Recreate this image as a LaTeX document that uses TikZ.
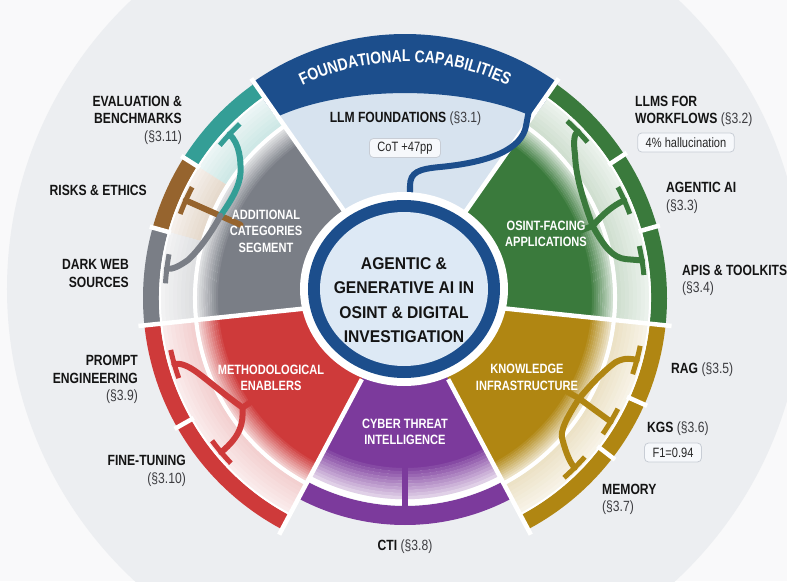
\documentclass[tikz,border=0pt]{standalone}
\usepackage{fontspec}
\setmainfont{Liberation Sans}[FakeStretch=0.82]
\newfontfamily\hubfont{Liberation Sans}[FakeStretch=0.92]
\usetikzlibrary{calc}
\usetikzlibrary{decorations.text}
\usepackage{xcolor}

\definecolor{fcblue}{RGB}{28,78,140}
\definecolor{fcpale}{RGB}{215,227,239}
\definecolor{appgreen}{RGB}{58,122,60}
\definecolor{kigold}{RGB}{176,134,18}
\definecolor{ctipurple}{RGB}{124,58,156}
\definecolor{megred}{RGB}{206,58,58}
\definecolor{addgray}{RGB}{122,126,134}
\definecolor{evalteal}{RGB}{52,158,150}
\definecolor{riskbrown}{RGB}{150,100,46}
\definecolor{bgdisk}{RGB}{236,238,241}
\definecolor{bgpage}{RGB}{249,249,250}
\definecolor{hubfill}{RGB}{221,233,245}
\definecolor{refgray}{RGB}{60,60,64}
\definecolor{tagline}{RGB}{200,205,213}
\definecolor{tagfill}{RGB}{246,248,251}

\newcommand{\ringseg}[5]{%
  \fill[#1] (#2:#4) arc[start angle=#2, end angle=#3, radius=#4] -- (#3:#5) arc[start angle=#3, end angle=#2, radius=#5] -- cycle;}
\newcommand{\sectorfill}[3]{%
  \fill[#1] (0,0) -- (#2:188) arc[start angle=#2, end angle=#3, radius=188] -- cycle;
  \foreach \k in {0,...,9} {
    \pgfmathsetmacro{\ra}{187+2.1*\k}
    \pgfmathsetmacro{\rb}{\ra+2.4}
    \pgfmathtruncatemacro{\pc}{92-7.5*\k}
    \ringseg{#1!\pc!white}{#2}{#3}{\ra}{\rb}
  }}
\newcommand{\paleband}[3]{%
  \foreach \k in {0,...,7} {
    \pgfmathsetmacro{\ra}{212+4*\k}
    \pgfmathsetmacro{\rb}{min(\ra+4.4,244)}
    \pgfmathtruncatemacro{\pc}{24-2*\k}
    \ringseg{#1!\pc!white}{#2}{#3}{\ra}{\rb}
  }}
\newcommand{\secref}[1]{{\mdseries\color{refgray}(\S#1)}}

\begin{document}
\begin{tikzpicture}[x=1pt, y=1pt,
  lbl/.style={font=\fontsize{14.8}{17.5}\selectfont\bfseries, text=black!92, inner sep=0pt},
  wlbl/.style={font=\fontsize{13.5}{16.5}\selectfont\bfseries, text=white, align=center, inner sep=0pt},
  hubtxt/.style={font=\hubfont\fontsize{17}{24.5}\selectfont\bfseries, text=black!92, align=center, inner sep=0pt},
  tagbox/.style={draw=tagline, fill=tagfill, rounded corners=4pt, line width=0.8pt, font=\fontsize{13.5}{14}\selectfont, text=black!85, minimum height=19pt, inner xsep=8pt, inner ysep=0pt},
  link/.style={line width=6pt, line cap=round},
  tbar/.style={line width=5pt},
  sep/.style={white, line width=4.5pt}]

\useasboundingbox (-405,-283) rectangle (382,298);
\fill[bgpage] (-405,-283) rectangle (382,298);
\fill[bgdisk] (0,9) circle (398);

\sectorfill{addgray}{125}{186}
\sectorfill{megred}{186}{242}
\sectorfill{kigold}{-62}{-6}
\sectorfill{appgreen}{-6}{55}
\paleband{evalteal}{125}{147.6}
\paleband{riskbrown}{147.6}{164.4}
\paleband{addgray}{164.4}{186}
\paleband{megred}{186}{242}
\paleband{kigold}{-62}{-6}
\paleband{appgreen}{-6}{55}

\fill[ctipurple] (0,0) -- (242:171) arc[start angle=242, end angle=298, radius=171] -- cycle;
\foreach \k in {0,...,9} {
  \pgfmathsetmacro{\ra}{170+3.1*\k}
  \pgfmathsetmacro{\rb}{\ra+3.4}
  \pgfmathtruncatemacro{\pc}{92-7.5*\k}
  \ringseg{ctipurple!\pc!white}{242}{298}{\ra}{\rb}
}

\fill[fcpale] (0,0) -- (55:232) arc[start angle=55, end angle=125, radius=232] -- cycle;
\fill[fcblue] (125.5:264) arc[start angle=125.5, end angle=54.5, radius=264] -- (54.5:222) .. controls (60,213) and (-60,213) .. (125.5:222) -- cycle;

\ringseg{evalteal}{125}{147.6}{246}{262}
\ringseg{riskbrown}{147.6}{164.4}{246}{262}
\ringseg{addgray}{164.4}{186}{246}{262}
\ringseg{megred}{186}{242}{246}{262}
\ringseg{ctipurple}{242}{298}{208}{227}
\ringseg{kigold}{-62}{-6}{246}{262}
\ringseg{appgreen}{-6}{55}{246}{262}

\foreach \a in {55,125,186,242,298,354}
  \draw[sep] (\a:92) -- (\a:268);
\draw[white, line width=4pt] (125:210) arc[start angle=125, end angle=242, radius=210];
\draw[white, line width=4pt] (-62:210) arc[start angle=-62, end angle=55, radius=210];
\draw[white, line width=6pt] (242:204.5) arc[start angle=242, end angle=298, radius=204.5];
\draw[white, line width=2pt] (125:245) arc[start angle=125, end angle=242, radius=245];
\draw[white, line width=2pt] (-62:245) arc[start angle=-62, end angle=55, radius=245];
\foreach \a in {147.6,164.4,209.6,-37.6,-24,15.9,33.2}
  \draw[sep] (\a:243) -- (\a:265);

\draw[link, fcblue] (5,90) -- (5,112) .. controls (5,126) and (14,129) .. (35,131) .. controls (88,136) and (117,150) .. (121,172) -- (124,188);

\draw[link, appgreen] (21:180) -- (21:201);
\draw[link, appgreen] (21:201) .. controls (30:204) and (36:211) .. (40:222) .. controls (43:230) and (44:235) .. (44:240);
\draw[link, appgreen] (21:201) .. controls (23:215) and (24:228) .. (24:240);
\draw[link, appgreen] (21:201) .. controls (14:206) and (11:212) .. (10:224) -- (9:240);
\foreach \a in {44,24,9}
  \draw[tbar, appgreen] (\a-3.5:240) arc[start angle=\a-3.5, end angle=\a+3.5, radius=240];

\draw[link, riskbrown] (156:180) -- (156:240);
\draw[link, evalteal] (156:202) .. controls (150:199) and (146:200) .. (143:206) .. controls (140:214) and (137:226) .. (137:240);
\draw[link, addgray] (156:202) .. controls (162:205) and (167:212) .. (170:220) .. controls (172:228) and (173:234) .. (173:240);
\draw[tbar, evalteal] (133.5:240) arc[start angle=133.5, end angle=140.5, radius=240];
\draw[tbar, riskbrown] (152.5:240) arc[start angle=152.5, end angle=159.5, radius=240];
\draw[tbar, addgray] (169.5:240) arc[start angle=169.5, end angle=176.5, radius=240];

\draw[link, megred] (214:180) -- (214:196);
\draw[link, megred] (214:196) .. controls (208:205) and (203:213) .. (200:220) .. controls (197:228) and (196:235) .. (196:240);
\draw[link, megred] (214:196) .. controls (218:205) and (220:215) .. (220:240);
\foreach \a in {196,220}
  \draw[tbar, megred] (\a-3.5:240) arc[start angle=\a-3.5, end angle=\a+3.5, radius=240];

\draw[link, kigold] (-30:180) -- (-30:201);
\draw[link, kigold] (-30:201) .. controls (-25:205) and (-20:212) .. (-17:220) .. controls (-15:228) and (-15:235) .. (-15:240);
\draw[link, kigold] (-30:201) -- (-31:240);
\draw[link, kigold] (-30:201) .. controls (-36:201) and (-41:204) .. (-42:212) .. controls (-44:224) and (-45:234) .. (-45:240);
\foreach \a in {-15,-31,-45}
  \draw[tbar, kigold] (\a-3.5:240) arc[start angle=\a-3.5, end angle=\a+3.5, radius=240];

\draw[link, ctipurple] (270:165) -- (270:209);

\fill[white] (-1,9) ellipse[x radius=104, y radius=97];
\fill[fcblue] (-1,9) ellipse[x radius=96, y radius=89];
\fill[hubfill] (-1,9) ellipse[x radius=84, y radius=77];

\path[decorate, decoration={text along path, text align=center,
  text={|\fontsize{17}{17}\selectfont\bfseries\color{white}|FOUNDATIONAL CAPABILITIES}}]
  (126:236) arc[start angle=126, end angle=54, radius=236];

\node[hubtxt] (hub) at (-1,-2) {AGENTIC \&\\GENERATIVE AI IN\\OSINT \& DIGITAL\\INVESTIGATION};

\node[wlbl] (addlbl) at (-139,66.7) {ADDITIONAL\\CATEGORIES\\SEGMENT};
\node[wlbl] (osintlbl) at (141,64.3) {OSINT-FACING\\APPLICATIONS};
\node[wlbl] (kilbl) at (122,-79.5) {KNOWLEDGE\\INFRASTRUCTURE};
\node[wlbl] (ctiwlbl) at (0,-134) {CYBER THREAT\\INTELLIGENCE};
\node[wlbl] (methlbl) at (-134,-80) {METHODOLOGICAL\\ENABLERS};

\node[lbl] (llmlbl) at (0.5,179.7) {LLM FOUNDATIONS \secref{3.1}};
\node[tagbox] (cottag) at (0,150) {CoT +47pp};
\node[lbl, anchor=west, align=left] (wflbl) at (230,186.7) {LLMS FOR\\WORKFLOWS \secref{3.2}};
\node[tagbox] (wftag) at (281,155.5) {4\% hallucination};
\node[lbl, anchor=west, align=left] (agentlbl) at (261,100) {AGENTIC AI\\\secref{3.3}};
\node[lbl, anchor=west, align=left] (apilbl) at (277,17.7) {APIS \& TOOLKITS\\\secref{3.4}};
\node[lbl, anchor=west] (raglbl) at (266,-72) {RAG \secref{3.5}};
\node[lbl, anchor=west] (kgslbl) at (242,-131) {KGS \secref{3.6}};
\node[tagbox] (kgstag) at (268,-154.5) {F1=0.94};
\node[lbl, anchor=west, align=left] (memlbl) at (197,-201.5) {MEMORY\\\secref{3.7}};
\node[lbl] (ctilbl) at (0,-249) {CTI \secref{3.8}};
\node[lbl, anchor=east, align=right] (promptlbl) at (-267,-81.5) {PROMPT\\ENGINEERING\\\secref{3.9}};
\node[lbl, anchor=east, align=right] (finelbl) at (-219,-173) {FINE-TUNING\\\secref{3.10}};
\node[lbl, anchor=east, align=right] (darklbl) at (-276,24.5) {DARK WEB\\SOURCES};
\node[lbl, anchor=east] (risklbl) at (-258,108) {RISKS \& ETHICS};
\node[lbl, anchor=east, align=right] (evallbl) at (-223,178) {EVALUATION \&\\BENCHMARKS\\\secref{3.11}};
\end{tikzpicture}
\end{document}
